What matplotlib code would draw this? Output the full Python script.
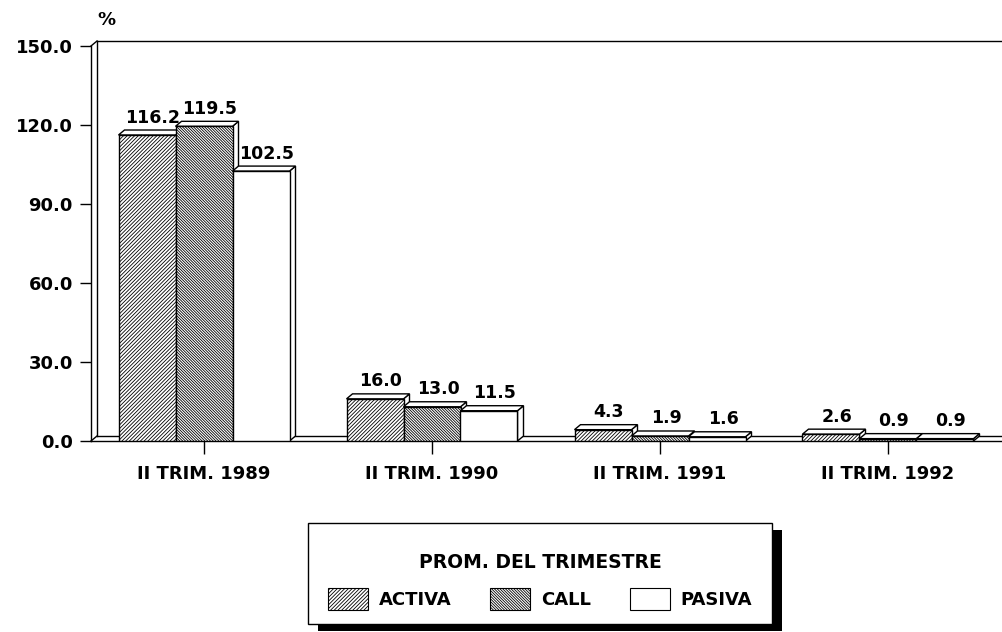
import numpy as np
import matplotlib
matplotlib.use('Agg')
import matplotlib.pyplot as plt
from matplotlib.patches import Polygon, Patch, Rectangle

# datos: variacion porcentual de tasas, promedio del trimestre
trimestres = ['II TRIM. 1989', 'II TRIM. 1990', 'II TRIM. 1991', 'II TRIM. 1992']
series = ['ACTIVA', 'CALL', 'PASIVA']
activa = [116.2, 16.0, 4.3, 2.6]
call = [119.5, 13.0, 1.9, 0.9]
pasiva = [102.5, 11.5, 1.6, 0.9]
valores = [activa, call, pasiva]
tramas = ['/' * 9, '\\' * 12, '']

plt.rcParams['font.family'] = ['DejaVu Sans']
plt.rcParams['font.weight'] = 'bold'
plt.rcParams['hatch.linewidth'] = 0.6

W, H = 1002, 632
fig = plt.figure(figsize=(W / 100, H / 100), dpi=100)
fig.patch.set_facecolor('white')

# marco frontal en pixeles
left, right, bottom, top = 91, 996, 441, 46
ax = fig.add_axes([left / W, (H - bottom) / H, (right - left) / W, (bottom - top) / H])
centro0, paso = 204, 228
x0 = (left - centro0) / paso
x1 = (right - centro0) / paso
ax.set_xlim(x0, x1)
ax.set_ylim(0, 150)

# profundidad del efecto 3D (pixeles -> datos)
prof_x, prof_y = 6, 5
dx = prof_x * (x1 - x0) / (right - left)
dy = prof_y * 150 / (bottom - top)

ancho = 0.25
n = len(trimestres)
grupos = np.arange(n)

for i, (vals, trama) in enumerate(zip(valores, tramas)):
    xs = grupos + (i - 1) * ancho
    z = 3 + 2 * i
    for xc, v in zip(xs, vals):
        l, r = xc - ancho / 2, xc + ancho / 2
        lado = Polygon([(r, 0), (r + dx, dy), (r + dx, v + dy), (r, v)],
                       closed=True, facecolor='white', edgecolor='black', lw=1, zorder=z)
        tapa = Polygon([(l, v), (l + dx, v + dy), (r + dx, v + dy), (r, v)],
                       closed=True, facecolor='white', edgecolor='black', lw=1, zorder=z)
        ax.add_patch(lado)
        ax.add_patch(tapa)
        ax.annotate(f'{v:.1f}', (xc, v), xytext=(4.3, 9.0), textcoords='offset points',
                    ha='center', va='baseline', fontsize=12.5, fontweight='bold')
    ax.bar(xs, vals, width=ancho, facecolor='white', edgecolor='black',
           hatch=trama, linewidth=1, zorder=z + 1)

# pared y piso de fondo
lk = dict(color='black', lw=1, clip_on=False, zorder=1)
ax.plot([x0 + dx, x0 + dx], [dy, 150 + dy], **lk)
ax.plot([x0 + dx, x1 + 2 * dx], [150 + dy, 150 + dy], **lk)
ax.plot([x0 + dx, x1 + 2 * dx], [dy, dy], **lk)
ax.plot([x0, x0 + dx], [150, 150 + dy], **lk)
ax.plot([x0, x0 + dx], [0, dy], **lk)

for s in ['top', 'right']:
    ax.spines[s].set_visible(False)
ax.spines['left'].set_linewidth(1)
ax.spines['bottom'].set_linewidth(1)
ax.spines['bottom'].set_bounds(x0, x1 + dx)

ax.set_yticks(np.arange(0, 151, 30))
ax.set_yticklabels([f'{t:.1f}' for t in np.arange(0, 151, 30)], fontsize=13, fontweight='bold')
ax.set_xticks(grupos)
ax.set_xticklabels(trimestres, fontsize=13, fontweight='bold')
ax.tick_params(axis='y', length=8, width=1, pad=5)
ax.tick_params(axis='x', length=9, width=1, pad=8)

ax.annotate('%', (x0, 150), xytext=(6, 26), textcoords='offset pixels',
            fontsize=13, fontweight='bold', ha='left', va='center')

# cuadro de la leyenda con sombra
bx0, by0, bx1, by1 = 308, 523, 772, 624
fig.patches.append(Rectangle(((bx0 + 10) / W, 1 - (by1 + 7) / H), (bx1 - bx0) / W, (by1 - by0) / H,
                             transform=fig.transFigure, facecolor='black', edgecolor='none', zorder=0))
fig.patches.append(Rectangle((bx0 / W, 1 - by1 / H), (bx1 - bx0) / W, (by1 - by0) / H,
                             transform=fig.transFigure, facecolor='white', edgecolor='black',
                             lw=1, zorder=1))

manijas = [Patch(facecolor='white', edgecolor='black', hatch=t, lw=0.8) for t in tramas]
leg = fig.legend(manijas, series, ncol=3, loc='upper left',
                 bbox_to_anchor=(bx0 / W, 1 - (by0 + 10) / H, (bx1 - bx0) / W, 0.0001), mode='expand',
                 title='PROM. DEL TRIMESTRE', fontsize=13,
                 title_fontproperties={'size': 13.5, 'weight': 'bold'},
                 handlelength=2.2, handleheight=1.5, handletextpad=0.6,
                 borderpad=1.1, borderaxespad=0, columnspacing=2.0, frameon=False)
leg._legend_box.sep = 12
leg.set_zorder(5)

fig.savefig('out.png', dpi=100, facecolor='white')
